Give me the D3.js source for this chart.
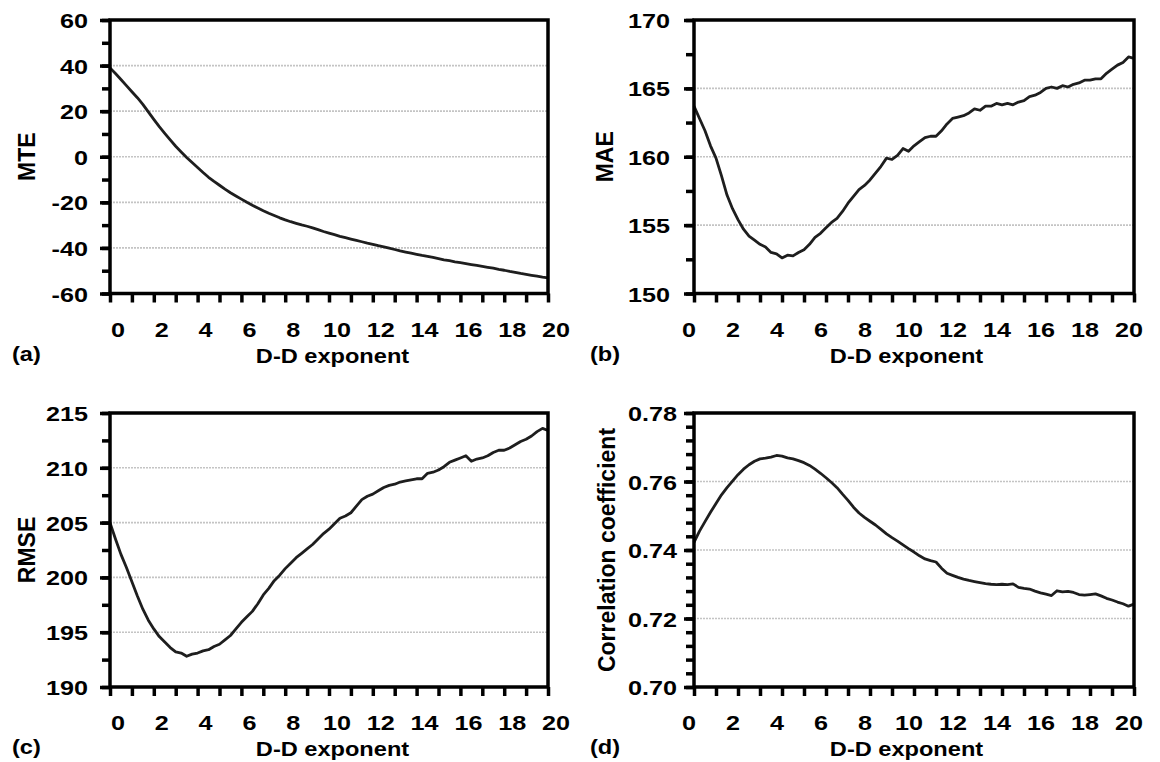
<!DOCTYPE html>
<html>
<head>
<meta charset="utf-8">
<script src="https://cdn.jsdelivr.net/npm/d3@7"></script>
<style>
body { margin: 0; background: #fff; }
text { font-family: "Liberation Sans", Arial, sans-serif; font-weight: bold; fill: #000; }
</style>
</head>
<body>
<svg id="chart" width="1160" height="762"></svg>
<script>
// D-D exponent (x values shared by all four panels)
const exponent = [0, 0.25, 0.5, 0.75, 1, 1.25, 1.5, 1.75, 2, 2.25, 2.5, 2.75, 3, 3.25, 3.5, 3.75,
  4, 4.25, 4.5, 4.75, 5, 5.25, 5.5, 5.75, 6, 6.25, 6.5, 6.75, 7, 7.25, 7.5, 7.75,
  8, 8.25, 8.5, 8.75, 9, 9.25, 9.5, 9.75, 10, 10.25, 10.5, 10.75, 11, 11.25, 11.5, 11.75,
  12, 12.25, 12.5, 12.75, 13, 13.25, 13.5, 13.75, 14, 14.25, 14.5, 14.75, 15, 15.25, 15.5, 15.75,
  16, 16.25, 16.5, 16.75, 17, 17.25, 17.5, 17.75, 18, 18.25, 18.5, 18.75, 19, 19.25, 19.5, 19.75, 20];

const mte = [39.0, 36.5, 33.9, 31.2, 28.5, 25.9, 23.0, 19.7, 16.4, 13.2, 10.3, 7.4, 4.6, 2.1, -0.3, -2.5,
  -4.7, -6.9, -9.0, -10.8, -12.5, -14.2, -15.8, -17.2, -18.6, -20.0, -21.3, -22.5, -23.7, -24.8, -25.8, -26.8,
  -27.7, -28.5, -29.2, -29.9, -30.5, -31.2, -32.0, -32.8, -33.5, -34.2, -34.9, -35.5, -36.1, -36.7, -37.3, -37.9,
  -38.4, -39.0, -39.5, -40.1, -40.7, -41.3, -41.8, -42.3, -42.8, -43.3, -43.7, -44.2, -44.7, -45.2, -45.6, -46.1,
  -46.5, -46.9, -47.3, -47.7, -48.1, -48.5, -48.9, -49.4, -49.8, -50.3, -50.7, -51.2, -51.6, -52.0, -52.4, -52.8, -53.1];

const mae = [163.7, 162.8, 161.9, 160.8, 159.9, 158.6, 157.2, 156.2, 155.4, 154.7, 154.2, 153.9, 153.6, 153.4, 153.0, 152.9,
  152.6, 152.8, 152.75, 153.0, 153.2, 153.6, 154.1, 154.4, 154.8, 155.2, 155.5, 156.0, 156.6, 157.1, 157.6, 157.9,
  158.3, 158.8, 159.3, 159.9, 159.8, 160.1, 160.6, 160.4, 160.8, 161.1, 161.4, 161.5, 161.5, 161.9, 162.4, 162.8,
  162.9, 163.0, 163.2, 163.5, 163.4, 163.7, 163.7, 163.9, 163.8, 163.9, 163.8, 164.0, 164.1, 164.4, 164.5, 164.7,
  165.0, 165.1, 165.0, 165.2, 165.1, 165.3, 165.4, 165.6, 165.6, 165.7, 165.7, 166.1, 166.4, 166.7, 166.9, 167.3, 167.2];

const rmse = [205.0, 203.5, 202.1, 200.9, 199.6, 198.3, 197.1, 196.1, 195.3, 194.6, 194.1, 193.6, 193.2, 193.1, 192.8, 193.0,
  193.1, 193.3, 193.4, 193.7, 193.9, 194.3, 194.7, 195.3, 195.9, 196.4, 196.9, 197.6, 198.4, 199.0, 199.7, 200.2,
  200.8, 201.3, 201.8, 202.2, 202.6, 203.0, 203.5, 204.0, 204.4, 204.9, 205.4, 205.6, 205.9, 206.5, 207.1, 207.4,
  207.6, 207.9, 208.2, 208.4, 208.5, 208.7, 208.8, 208.9, 209.0, 209.0, 209.5, 209.6, 209.8, 210.1, 210.5, 210.7,
  210.9, 211.1, 210.6, 210.8, 210.9, 211.1, 211.4, 211.6, 211.6, 211.8, 212.1, 212.4, 212.6, 212.9, 213.3, 213.6, 213.4];

const corr = [0.7422, 0.7455, 0.7483, 0.7510, 0.7536, 0.7561, 0.7582, 0.7601, 0.7620, 0.7636, 0.7649, 0.7659, 0.7666, 0.7668, 0.7671, 0.7676,
  0.7674, 0.7669, 0.7666, 0.7661, 0.7655, 0.7647, 0.7636, 0.7624, 0.7611, 0.7597, 0.7582, 0.7563, 0.7545, 0.7525, 0.7508, 0.7495,
  0.7484, 0.7473, 0.7460, 0.7447, 0.7436, 0.7426, 0.7415, 0.7404, 0.7394, 0.7383, 0.7374, 0.7369, 0.7365, 0.7347, 0.7332, 0.7326,
  0.7320, 0.7315, 0.7311, 0.7308, 0.7305, 0.7302, 0.7300, 0.7299, 0.7300, 0.7299, 0.7301, 0.7291, 0.7288, 0.7286, 0.7280, 0.7275,
  0.7271, 0.7267, 0.7281, 0.7278, 0.7279, 0.7276, 0.7270, 0.7268, 0.7270, 0.7272, 0.7266, 0.7259, 0.7254, 0.7248, 0.7243, 0.7236, 0.7242];

// tick labels
const xLabels = [0, 2, 4, 6, 8, 10, 12, 14, 16, 18, 20];
const xTickMarks = [0, 1, 2, 3, 4, 5, 6, 7, 8, 9, 10, 11, 12, 13, 14, 15, 16, 17, 18, 19, 20];
const mteTicks = [-60, -40, -20, 0, 20, 40, 60];
const maeTicks = [150, 155, 160, 165, 170];
const rmseTicks = [190, 195, 200, 205, 210, 215];
const corrTicks = [0.70, 0.72, 0.74, 0.76, 0.78];

const svg = d3.select("#chart");

// reference text is drawn a bit wide, so stretch it horizontally
function wideText(g, x, y, str, anchor, sx) {
  return g.append("text")
    .attr("transform", `translate(${x},${y}) scale(${sx},1)`)
    .attr("text-anchor", anchor)
    .attr("font-size", 20)
    .text(str);
}

function drawPanel(p) {
  const x = d3.scaleLinear().domain([0, 20]).range([p.left, p.right]);
  const y = d3.scaleLinear().domain([p.ticks[0], p.ticks[p.ticks.length - 1]]).range([p.bottom, p.top]);
  const g = svg.append("g");

  //grid lines
  g.selectAll(".grid")
    .data(p.ticks.slice(1, -1))
    .enter()
    .append("line")
    .attr("x1", p.left)
    .attr("x2", p.right)
    .attr("y1", d => y(d))
    .attr("y2", d => y(d))
    .attr("stroke", "#c4c4c4")
    .attr("stroke-width", 1.6)
    .attr("stroke-dasharray", "2,1");

  //series line
  const line = d3.line()
    .x((d, i) => x(exponent[i]))
    .y(d => y(d));
  g.append("path")
    .datum(p.values)
    .attr("d", line)
    .attr("fill", "none")
    .attr("stroke", "#1e1e1e")
    .attr("stroke-width", 2.8)
    .attr("stroke-linejoin", "round");

  //frame
  g.append("rect")
    .attr("x", p.left)
    .attr("y", p.top)
    .attr("width", p.right - p.left)
    .attr("height", p.bottom - p.top)
    .attr("fill", "none")
    .attr("stroke", "#000")
    .attr("stroke-width", 3.5);

  //y ticks (minor + major) and x ticks
  const yMinor = g.append("g")
    .attr("transform", `translate(${p.left},0)`)
    .call(d3.axisLeft(y).tickValues(p.minor).tickSize(8).tickFormat(""));
  const yMajor = g.append("g")
    .attr("transform", `translate(${p.left},0)`)
    .call(d3.axisLeft(y).tickValues(p.ticks).tickSize(10).tickFormat(""));
  const xAxis = g.append("g")
    .attr("transform", `translate(0,${p.bottom})`)
    .call(d3.axisBottom(x).tickValues(xTickMarks).tickSize(9).tickFormat(""));
  [yMinor, yMajor, xAxis].forEach(a => {
    a.select(".domain").remove();
    a.selectAll("line").attr("stroke", "#000").attr("stroke-width", 3.5);
  });

  //tick labels
  p.ticks.forEach(t => wideText(g, p.left - p.yGap, y(t) + 8, p.fmt(t), "end", 1.26));
  xLabels.forEach(t => wideText(g, x(t) + p.xShift, p.bottom + 43, t, "middle", 1.26));

  //titles
  wideText(g, (p.left + p.right) / 2 + p.titleShift, p.bottom + 69, "D-D exponent", "middle", 1.18);
  wideText(g, p.tagX, p.bottom + 67, p.tag, "start", 1.18);
  g.append("text")
    .attr("transform", `translate(${p.yTitleX},${(p.top + p.bottom) / 2}) rotate(-90)`)
    .attr("text-anchor", "middle")
    .attr("font-size", 23)
    .text(p.yTitle);
}

const f0 = d => String(d), f2 = d3.format(".2f");

drawPanel({tag: "(a)", values: mte, yTitle: "MTE", ticks: mteTicks, minor: d3.range(-60, 60.01, 10), fmt: f0,
  left: 110, right: 548, top: 20, bottom: 293.5, yGap: 22, xShift: 8, titleShift: 3.5, tagX: 12, yTitleX: 35});
drawPanel({tag: "(b)", values: mae, yTitle: "MAE", ticks: maeTicks, minor: d3.range(150, 170.01, 2.5), fmt: f0,
  left: 694, right: 1134, top: 20, bottom: 293.5, yGap: 24, xShift: -5, titleShift: -7.5, tagX: 590, yTitleX: 613});
drawPanel({tag: "(c)", values: rmse, yTitle: "RMSE", ticks: rmseTicks, minor: d3.range(190, 215.01, 2.5), fmt: f0,
  left: 110, right: 548, top: 413, bottom: 687, yGap: 22, xShift: 8, titleShift: 3.5, tagX: 12, yTitleX: 35});
drawPanel({tag: "(d)", values: corr, yTitle: "Correlation coefficient", ticks: corrTicks, minor: d3.range(0.70, 0.7801, 0.004), fmt: f2,
  left: 694, right: 1134, top: 413, bottom: 687, yGap: 17, xShift: -5, titleShift: -7.5, tagX: 590, yTitleX: 615});
</script>
</body>
</html>
